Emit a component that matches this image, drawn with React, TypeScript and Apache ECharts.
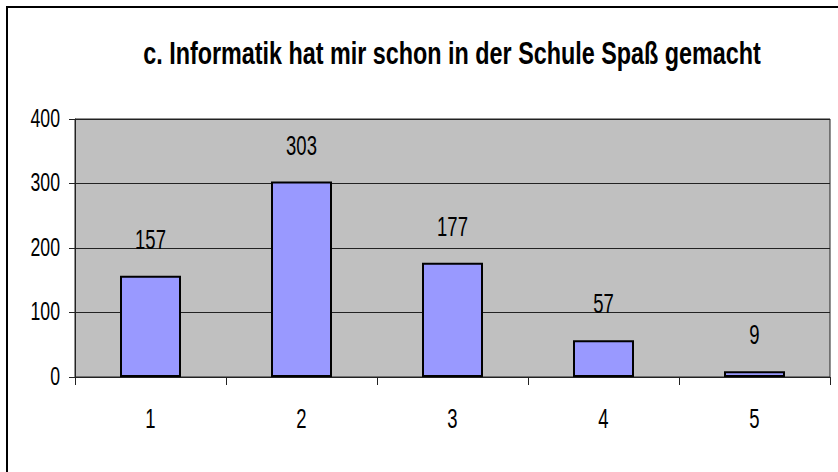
import React, { useEffect, useRef } from "react";
import * as echarts from "echarts";

const categories = ["1", "2", "3", "4", "5"];
const values = [157, 303, 177, 57, 9];
const yTicks = [0, 100, 200, 300, 400];
const titleText = "c. Informatik hat mir schon in der Schule Spaß gemacht";

const FONT = "'Liberation Sans', Arial, sans-serif";

function measure(text: string, font: string): number {
  const c = document.createElement("canvas");
  const ctx = c.getContext("2d");
  if (!ctx) return text.length * 10;
  ctx.font = font;
  return ctx.measureText(text).width;
}

export default function App() {
  const ref = useRef<HTMLDivElement>(null);
  useEffect(() => {
    if (!ref.current) return;
    const chart = echarts.init(ref.current, undefined, { renderer: "svg" });
    chart.setOption({
      animation: false,
      backgroundColor: "#ffffff",
      grid: {
        left: 75,
        top: 119,
        right: 8,
        bottom: 95,
        show: true,
        backgroundColor: "#C0C0C0",
        borderColor: "#222",
        borderWidth: 1,
      },
      xAxis: {
        type: "category",
        data: categories,
        boundaryGap: true,
        axisLine: { show: true, lineStyle: { color: "#222", width: 1 } },
        axisTick: { show: true, alignWithLabel: false, length: 8, lineStyle: { color: "#222" } },
        axisLabel: { show: false },
      },
      yAxis: {
        type: "value",
        min: yTicks[0],
        max: yTicks[yTicks.length - 1],
        interval: 100,
        axisLine: { show: true, lineStyle: { color: "#222", width: 1 } },
        axisTick: { show: true, length: 6, lineStyle: { color: "#222" } },
        axisLabel: { show: false },
        splitLine: { show: true, lineStyle: { color: "#222", width: 1 } },
      },
      series: [
        {
          type: "bar",
          data: values,
          barWidth: 61,
          itemStyle: { color: "#9999FF", borderColor: "#000", borderWidth: 2 },
          label: { show: false },
        },
      ],
    });

    const titleFont = `bold 32px ${FONT}`;
    const titleScale = 618 / measure(titleText, titleFont);
    const yFont = 26;
    const yScale = 0.68;
    const vFont = 28;
    const vScale = 0.66;
    const xFont = 28;
    const xScale = 0.66;

    const g: any[] = [];
    g.push({
      type: "polyline",
      shape: { points: [[7, 472], [7, 7], [838, 7]] },
      style: { stroke: "#000", lineWidth: 2, fill: "none" },
      z: 100,
    });
    g.push({
      type: "text",
      x: 452,
      y: 53,
      scaleX: titleScale,
      style: {
        text: titleText,
        font: titleFont,
        fill: "#000",
        textAlign: "center",
        textVerticalAlign: "middle",
      },
    });
    yTicks.forEach((t) => {
      const py = chart.convertToPixel({ yAxisIndex: 0 }, t) as number;
      g.push({
        type: "text",
        x: 60,
        y: py - 1,
        scaleX: yScale,
        style: {
          text: String(t),
          font: `${yFont}px ${FONT}`,
          fill: "#000",
          textAlign: "right",
          textVerticalAlign: "middle",
        },
      });
    });
    categories.forEach((c, i) => {
      const px = chart.convertToPixel({ xAxisIndex: 0 }, i) as number;
      g.push({
        type: "text",
        x: px,
        y: 419,
        scaleX: xScale,
        style: {
          text: c,
          font: `${xFont}px ${FONT}`,
          fill: "#000",
          textAlign: "center",
          textVerticalAlign: "middle",
        },
      });
    });
    values.forEach((v, i) => {
      const p = chart.convertToPixel({ gridIndex: 0 }, [i, v]) as number[];
      g.push({
        type: "text",
        x: p[0],
        y: p[1] - 36.5,
        scaleX: vScale,
        style: {
          text: String(v),
          font: `${vFont}px ${FONT}`,
          fill: "#000",
          textAlign: "center",
          textVerticalAlign: "middle",
        },
      });
    });
    chart.setOption({ graphic: g });
    return () => chart.dispose();
  }, []);
  return <div ref={ref} style={{ width: 838, height: 472, position: "absolute", left: 0, top: 0 }} />;
}
